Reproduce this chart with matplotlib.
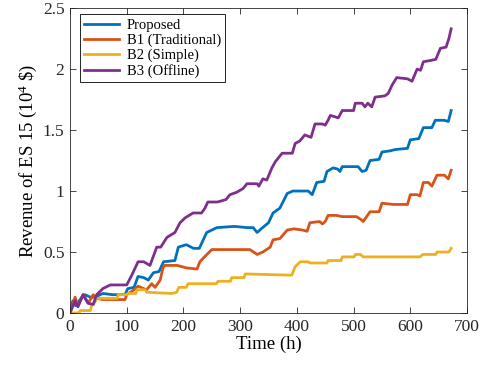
import matplotlib
matplotlib.use("Agg")
import matplotlib.pyplot as plt

plt.rcParams['font.family'] = ['Liberation Serif', 'DejaVu Serif']
plt.rcParams['mathtext.fontset'] = 'custom'
plt.rcParams['mathtext.rm'] = 'Liberation Serif'
plt.rcParams['mathtext.it'] = 'Liberation Serif:italic'

# data (hour, revenue in 10^4 $)
prop_h = [0, 5, 10, 21, 26, 36, 44, 58, 75, 97,
          102, 113, 120, 130, 138, 147, 157, 165, 185, 191,
          205, 218, 228, 235, 241, 259, 290, 312, 323, 330,
          337, 350, 358, 370, 383, 393, 420, 427, 435, 448,
          453, 464, 472, 476, 480, 508, 515, 522, 529, 545,
          550, 565, 573, 595, 600, 615, 623, 638, 644, 660,
          667, 672]
prop_v = [0, 0.10, 0.06, 0.13, 0.15, 0.13, 0.13, 0.16, 0.15, 0.15,
          0.20, 0.21, 0.30, 0.29, 0.27, 0.33, 0.34, 0.42, 0.43, 0.54,
          0.56, 0.53, 0.53, 0.60, 0.66, 0.70, 0.71, 0.70, 0.70, 0.66,
          0.69, 0.74, 0.82, 0.86, 0.98, 1.00, 1.00, 0.97, 1.07, 1.08,
          1.16, 1.19, 1.18, 1.16, 1.20, 1.20, 1.16, 1.17, 1.25, 1.26,
          1.32, 1.33, 1.34, 1.35, 1.42, 1.43, 1.52, 1.52, 1.58, 1.58,
          1.57, 1.66]

b1_h = [0, 9, 14, 23, 32, 41, 47, 58, 72, 97,
        100, 113, 120, 130, 135, 144, 150, 159, 164, 167,
        189, 205, 224, 229, 235, 250, 317, 330, 340, 353,
        358, 370, 383, 395, 410, 418, 423, 440, 445, 450,
        455, 470, 480, 505, 512, 517, 529, 545, 550, 570,
        595, 600, 612, 617, 623, 632, 638, 647, 660, 667,
        672]
b1_v = [0, 0.13, 0.06, 0.15, 0.08, 0.15, 0.12, 0.11, 0.11, 0.11,
        0.15, 0.19, 0.22, 0.20, 0.19, 0.24, 0.21, 0.27, 0.37, 0.39,
        0.39, 0.37, 0.36, 0.42, 0.45, 0.52, 0.52, 0.48, 0.50, 0.54,
        0.60, 0.61, 0.68, 0.69, 0.68, 0.67, 0.74, 0.75, 0.73, 0.75,
        0.80, 0.80, 0.79, 0.79, 0.77, 0.75, 0.83, 0.83, 0.90, 0.89,
        0.89, 0.97, 0.97, 0.96, 1.07, 1.07, 1.04, 1.13, 1.13, 1.10,
        1.17]

b2_h = [0, 16, 18, 36, 38, 44, 47, 83, 85, 100,
        102, 116, 118, 133, 135, 180, 188, 192, 205, 208,
        258, 261, 283, 285, 307, 309, 391, 397, 406, 420,
        423, 453, 455, 478, 480, 501, 503, 512, 517, 617,
        622, 645, 647, 668, 672]
b2_v = [0, 0, 0.02, 0.02, 0.06, 0.09, 0.12, 0.12, 0.15, 0.15,
        0.16, 0.16, 0.19, 0.19, 0.17, 0.16, 0.17, 0.21, 0.21, 0.24,
        0.24, 0.26, 0.26, 0.29, 0.29, 0.32, 0.31, 0.38, 0.42, 0.42,
        0.41, 0.41, 0.43, 0.43, 0.46, 0.46, 0.48, 0.48, 0.46, 0.46,
        0.48, 0.48, 0.50, 0.50, 0.53]

b3_h = [0, 9, 14, 23, 32, 41, 47, 58, 71, 100,
        109, 120, 130, 141, 153, 160, 171, 185, 194, 203,
        217, 232, 238, 243, 260, 275, 282, 294, 305, 312,
        330, 333, 340, 347, 356, 362, 374, 392, 397, 405,
        414, 425, 432, 445, 450, 455, 459, 473, 480, 500,
        503, 515, 520, 525, 532, 538, 555, 561, 568, 576,
        595, 603, 612, 618, 623, 635, 645, 653, 663, 668,
        672]
b3_v = [0, 0.10, 0.05, 0.15, 0.08, 0.07, 0.15, 0.20, 0.23, 0.23,
        0.31, 0.42, 0.42, 0.39, 0.54, 0.54, 0.62, 0.66, 0.74, 0.78,
        0.82, 0.82, 0.86, 0.91, 0.91, 0.93, 0.97, 0.99, 1.02, 1.06,
        1.06, 1.04, 1.10, 1.09, 1.19, 1.24, 1.31, 1.31, 1.39, 1.41,
        1.46, 1.44, 1.55, 1.55, 1.54, 1.58, 1.62, 1.60, 1.66, 1.66,
        1.72, 1.72, 1.69, 1.72, 1.69, 1.77, 1.78, 1.80, 1.87, 1.93,
        1.92, 1.90, 2.00, 1.99, 2.06, 2.07, 2.08, 2.17, 2.18, 2.25,
        2.33]

names = ['Proposed', 'B1 (Traditional)', 'B2 (Simple)', 'B3 (Offline)']
colors = ['#0072BD', '#D95319', '#EDB120', '#7E2F8E']

fig = plt.figure(figsize=(4.87, 3.68), dpi=100)
ax = fig.add_axes([0.1437, 0.1495, 0.8153, 0.8285])

series = [(prop_h, prop_v), (b1_h, b1_v), (b2_h, b2_v), (b3_h, b3_v)]
for (h, v), name, c in zip(series, names, colors):
    ax.plot(h, v, color=c, lw=2.0, label=name)

ax.set_xlim(0, 700)
ax.set_ylim(0, 2.5)
ax.set_xticks(range(0, 701, 100))
ax.set_yticks([0, 0.5, 1, 1.5, 2, 2.5])
ax.set_yticklabels(['0', '0.5', '1', '1.5', '2', '2.5'])
ax.tick_params(direction='in', top=True, right=True, length=4, width=0.6,
               labelsize=12.5, colors='#262626', pad=4)
for s in ax.spines.values():
    s.set_linewidth(0.6)
    s.set_color('#262626')

ax.set_xlabel('Time (h)', fontsize=13.5, labelpad=1)
ax.set_ylabel('Revenue of ES 15 (10$^4$ \\$)', fontsize=13.5, labelpad=3)

leg = ax.legend(loc='upper left', bbox_to_anchor=(0.025, 0.98), borderaxespad=0,
                fontsize=10.5, fancybox=False, edgecolor='k', framealpha=1,
                handlelength=2.4, labelspacing=0.12, borderpad=0.3,
                handletextpad=0.5)
leg.get_frame().set_linewidth(0.6)

fig.savefig('out.png', dpi=100)
